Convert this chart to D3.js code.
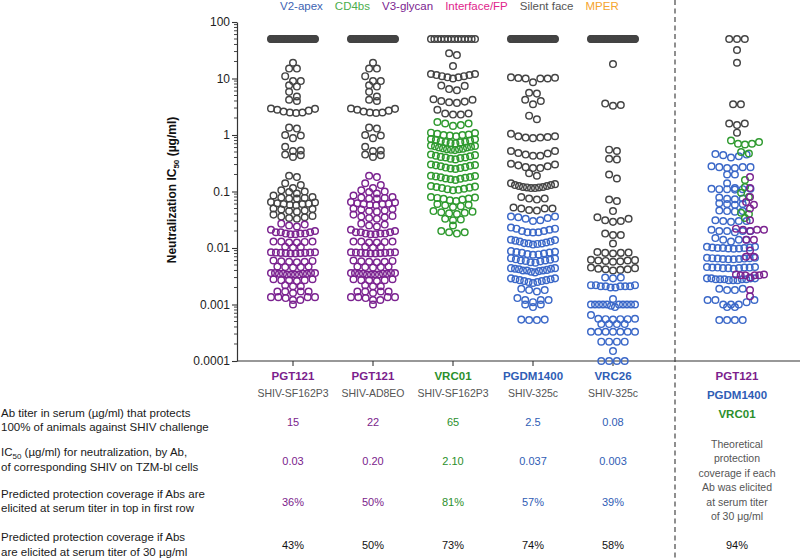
<!DOCTYPE html>
<html><head><meta charset="utf-8">
<script src="https://cdn.jsdelivr.net/npm/d3@7"></script>
<style>body{margin:0;background:#fff;} svg{display:block;font-family:"Liberation Sans",Arial,Helvetica,sans-serif;}</style>
</head><body><svg id="c" width="800" height="560"></svg>
<script>
// ---------------- DATA ----------------
const yTickValues = [0.0001, 0.001, 0.01, 0.1, 1, 10, 100];
const yTickLabels = ["0.0001", "0.001", "0.01", "0.1", "1", "10", "100"];

const legendLabels = ["V2-apex", "CD4bs", "V3-glycan", "Interface/FP", "Silent face", "MPER"];
const legendColors = ["#3d63b3", "#4cae4c", "#7b2390", "#e0248c", "#555555", "#f5a52e"];

const colAntibodies = ["PGT121", "PGT121", "VRC01", "PGDM1400", "VRC26"];
const colViruses = ["SHIV-SF162P3", "SHIV-AD8EO", "SHIV-SF162P3", "SHIV-325c", "SHIV-325c"];
const colClass = ["V3-glycan", "V3-glycan", "CD4bs", "V2-apex", "V2-apex"];
const thresholds = [0.03, 0.20, 2.10, 0.037, 0.003];     // IC50 of challenge SHIV
const resistantCounts = [60, 60, 14, 55, 60];           // viruses with IC50 > 50
const protectTiter = ["15", "22", "65", "2.5", "0.08"];
const shivIC50 = ["0.03", "0.20", "2.10", "0.037", "0.003"];
const coverageTop = ["36%", "50%", "81%", "57%", "39%"];
const coverage30 = ["43%", "50%", "73%", "74%", "58%"];
const combinedCoverage = "94%";

const pgt121IC50 = [
  19, 15, 15, 11, 9, 9, 7.6, 7.2, 5.8, 4.8, 4.2, 4.0,
  2.95, 2.9, 2.8, 2.7, 2.6, 2.5, 2.5, 2.45,
  1.35, 1.3, 1.0, 0.98, 0.88, 0.62, 0.53, 0.52, 0.45, 0.44, 0.41,
  0.19, 0.18, 0.14, 0.13, 0.115, 0.105, 0.1, 0.098, 0.092,
  0.085, 0.08, 0.077, 0.075, 0.075, 0.078,
  0.065, 0.064, 0.062, 0.061, 0.06, 0.06, 0.058, 0.057,
  0.05, 0.049, 0.048, 0.046, 0.045, 0.044,
  0.039, 0.037, 0.036, 0.035, 0.034, 0.033,
  0.027, 0.026, 0.025, 0.024,
  0.021, 0.02, 0.019, 0.019, 0.018, 0.018, 0.0175, 0.0175, 0.018, 0.019,
  0.013, 0.013, 0.0125, 0.0125, 0.013, 0.0128,
  0.0105, 0.0102, 0.0104,
  0.0084, 0.0083, 0.0082, 0.0081, 0.008, 0.008, 0.0081, 0.0082, 0.0083, 0.0084,
  0.006, 0.0058, 0.0057, 0.0056, 0.0057, 0.0059,
  0.0047, 0.0046, 0.0045, 0.0046, 0.0047,
  0.0036, 0.0036, 0.0035, 0.0035, 0.0034, 0.0034, 0.0034, 0.0035, 0.0035, 0.0036, 0.0036, 0.0034,
  0.0028, 0.0027, 0.0027, 0.0026, 0.0027, 0.0028,
  0.0022, 0.0021, 0.0021,
  0.0017, 0.0017, 0.0016, 0.0017, 0.0017,
  0.00135, 0.00135, 0.0013, 0.00135, 0.00135,
  0.0012, 0.0012, 0.001
];

const vrc01IC50 = [
  28, 26, 16.6, 12, 11.5, 11, 10.5, 10, 10.5, 11, 11.5, 12,
  7.5, 7.4, 6.5, 6.2, 4.3, 4.2, 4.0, 3.9, 3.8, 3.7, 2.8, 2.4, 2.4, 2.3, 2.3,
  1.7, 1.6, 1.6, 1.5, 1.45,
  1.1, 1.08, 1.05, 1.02, 1.0, 1.0, 0.98, 0.95,
  0.85, 0.84, 0.82, 0.8, 0.78, 0.76, 0.75, 0.74, 0.72, 0.71,
  0.65, 0.64, 0.63, 0.62, 0.6, 0.6, 0.58, 0.57, 0.56, 0.56, 0.55, 0.54,
  0.45, 0.44, 0.43, 0.42, 0.41, 0.4, 0.4, 0.39, 0.38, 0.37,
  0.3, 0.295, 0.29, 0.285, 0.28, 0.27, 0.265, 0.26, 0.255, 0.25,
  0.19, 0.188, 0.185, 0.18, 0.178, 0.175, 0.17, 0.168, 0.165, 0.16,
  0.125, 0.122, 0.12, 0.117, 0.115, 0.112, 0.11, 0.107, 0.105,
  0.08, 0.078, 0.077, 0.075, 0.074, 0.072, 0.07, 0.068,
  0.06, 0.058, 0.057, 0.055, 0.053,
  0.045, 0.044, 0.043, 0.042, 0.041, 0.04,
  0.033, 0.032, 0.031, 0.025, 0.02, 0.019, 0.019, 0.018
];

const pgdm1400IC50 = [
  10.5, 10.3, 10.2, 10, 10, 10, 8.6, 5.6, 5.4, 4.2, 4.0, 3.5, 2.2, 1.9,
  1.05, 0.95, 0.95, 0.92, 0.9, 0.9, 0.88,
  0.52, 0.52, 0.48, 0.47, 0.45, 0.43, 0.43,
  0.31, 0.3, 0.29, 0.28, 0.27, 0.26, 0.26, 0.21, 0.19,
  0.14, 0.13, 0.125, 0.12, 0.118, 0.115, 0.115, 0.118, 0.12, 0.125, 0.13, 0.135,
  0.08, 0.075, 0.072, 0.075, 0.052, 0.05, 0.05, 0.05, 0.047, 0.046,
  0.036, 0.036, 0.035, 0.034, 0.033, 0.031, 0.03,
  0.023, 0.022, 0.022, 0.021, 0.02, 0.02, 0.019, 0.019, 0.0188,
  0.014, 0.0138, 0.0135, 0.013, 0.013, 0.0125, 0.0122, 0.012, 0.012, 0.0118, 0.0115,
  0.0088, 0.0086, 0.0085, 0.0083, 0.0082, 0.008, 0.0078, 0.0077, 0.0076,
  0.0066, 0.0065, 0.0063, 0.0062, 0.006, 0.006, 0.0059, 0.0058, 0.0056, 0.0055,
  0.0044, 0.0044, 0.0043, 0.0043, 0.0042, 0.0041, 0.004, 0.004, 0.004, 0.0039, 0.0038, 0.0037,
  0.0029, 0.0029, 0.0028, 0.0028, 0.0027, 0.0027, 0.0026, 0.0026, 0.0025, 0.0025, 0.0024,
  0.0019, 0.0018, 0.0018, 0.0017, 0.0013, 0.0012, 0.0012, 0.0012, 0.0011,
  0.001, 0.001, 0.0009, 0.00054, 0.00053, 0.00053, 0.00054
];

const vrc26IC50 = [
  18, 3.6, 3.4, 3.3, 0.55, 0.52, 0.38, 0.37, 0.2, 0.17, 0.072, 0.068, 0.045,
  0.035, 0.033, 0.031, 0.03, 0.029, 0.018, 0.017, 0.017, 0.012,
  0.0085, 0.0083, 0.0082, 0.008, 0.0082,
  0.0062, 0.0061, 0.006, 0.006, 0.0059, 0.0058, 0.0057,
  0.0045, 0.0044, 0.0043, 0.0042, 0.0041, 0.004, 0.0042,
  0.003, 0.003, 0.0029,
  0.0022, 0.0022, 0.0021, 0.0021, 0.0021, 0.002, 0.002, 0.0021, 0.0022, 0.0021,
  0.00125,
  0.001, 0.001, 0.001, 0.001, 0.001, 0.001, 0.001, 0.001, 0.001, 0.001, 0.00095, 0.0009,
  0.00065, 0.00056, 0.00056, 0.00055, 0.00055, 0.00055, 0.00054,
  0.00045, 0.00045, 0.00045, 0.00045,
  0.00033, 0.00033, 0.00033, 0.00033, 0.00033, 0.00033, 0.00033,
  0.00022, 0.00022, 0.00022, 0.00022, 0.00015,
  0.0001, 0.0001, 0.0001, 0.0001
];

// combined column (best of PGT121 / PGDM1400 / VRC01 per virus)
const combinedResistant = 3;
const combinedNone = [32, 19, 3.5, 3.5, 1.6, 1.6, 1.5, 1.1];
const combinedCD4bs = [0.8, 0.75, 0.7, 0.7, 0.68, 0.5, 0.47, 0.16, 0.12, 0.095, 0.08, 0.042, 0.04, 0.034];
const combinedV3 = [0.18, 0.115, 0.08, 0.065, 0.058, 0.05, 0.031, 0.022, 0.021, 0.021, 0.02, 0.021,
  0.014, 0.014, 0.009, 0.007, 0.007, 0.0034, 0.0033, 0.0033, 0.0034, 0.0033, 0.0033, 0.003, 0.0018, 0.0014];
const combinedV2 = [0.46, 0.45, 0.44, 0.42, 0.4, 0.28, 0.27, 0.27, 0.26, 0.26, 0.27, 0.2, 0.2, 0.14,
  0.115, 0.112, 0.11, 0.11, 0.108, 0.11, 0.112, 0.078, 0.075, 0.074, 0.073, 0.062, 0.06, 0.06, 0.058,
  0.046, 0.045, 0.045, 0.044, 0.031, 0.03, 0.03, 0.029, 0.03, 0.021, 0.02, 0.02, 0.02, 0.019, 0.02,
  0.015, 0.014, 0.014, 0.013, 0.014, 0.0105, 0.0102, 0.01, 0.01, 0.0098, 0.0097, 0.0098, 0.01, 0.0102, 0.0105,
  0.0067, 0.0066, 0.0065, 0.0064, 0.0063, 0.0063, 0.0064, 0.0065, 0.0066, 0.0067,
  0.0046, 0.0045, 0.0045, 0.0044, 0.0044, 0.0043, 0.0044, 0.0045, 0.0045, 0.0046,
  0.0029, 0.0029, 0.0028, 0.0028, 0.0027, 0.0027, 0.0027, 0.0028, 0.0028, 0.0029, 0.0029, 0.0028,
  0.0019, 0.0018, 0.0018, 0.0019, 0.0012, 0.0012, 0.0011, 0.0012, 0.001, 0.001, 0.001, 0.0009, 0.0009,
  0.00053, 0.00053, 0.00053, 0.00053];

const rowLabels = [
  ["Ab titer in serum (\u00b5g/ml) that protects", "100% of animals against SHIV challenge"],
  ["IC|50| (\u00b5g/ml) for neutralization, by Ab,", "of corresponding SHIV on TZM-bl cells"],
  ["Predicted protection coverage if Abs are", "elicited at serum titer in top in first row"],
  ["Predicted protection coverage if Abs", "are elicited at serum titer of 30 \u00b5g/ml"]
];
const combinedAbs = ["PGT121", "PGDM1400", "VRC01"];
const combinedAbClass = ["V3-glycan", "V2-apex", "CD4bs"];
const combinedNote = ["Theoretical", "protection", "coverage if each", "Ab was elicited", "at serum titer", "of 30 \u03bcg/ml"];

// ---------------- STYLE ----------------
const dotColor = {"V2-apex": "#3b68c8", "CD4bs": "#2f9a2f", "V3-glycan": "#7b2390", "none": "#444444"};
const textColor = {"V2-apex": "#2f5db5", "CD4bs": "#2b8f2b", "V3-glycan": "#7b1d8c"};
const R = 3.3, DOT_STEP = 7.8, BIN_H = 5;

const svg = d3.select("#c");
const y = d3.scaleLog().domain([0.0001, 100]).range([361, 22]);
const x = d3.scalePoint().domain(d3.range(colAntibodies.length)).range([293, 613]);
const xCombined = 737, xAxis0 = 237, xDivider = 675;
// horizontal centre shift of each class within the combined column
const combinedShift = {"V2-apex": -6, "CD4bs": 8, "V3-glycan": 13, "none": 0};
const combinedHalf = {"V2-apex": 24, "CD4bs": 14, "V3-glycan": 14, "none": 10};

// legend
let lx = 280;
legendLabels.forEach((l, i) => {
  const t = svg.append("text").attr("x", lx).attr("y", 10).attr("font-size", 11.5)
    .attr("fill", legendColors[i]).text(l);
  lx += t.node().getComputedTextLength() + 12;
});

// y axis
const yAxis = d3.axisLeft(y).tickValues(yTickValues).tickFormat((d, i) => yTickLabels[i])
  .tickSize(5).tickSizeOuter(0).tickPadding(2);
const gy = svg.append("g").attr("transform", `translate(${xAxis0},0)`).call(yAxis);
gy.select(".domain").attr("stroke", "#333").attr("stroke-width", 1.2);
gy.selectAll(".tick line").attr("stroke", "#333").attr("stroke-width", 1.1);
gy.selectAll(".tick text").attr("font-size", 12).attr("fill", "#222")
  .attr("font-family", '"Liberation Sans",Arial,sans-serif');
const minor = [];
yTickValues.slice(0, -1).forEach(d => { for (let k = 2; k <= 9; k++) minor.push(d * k); });
gy.selectAll(".minor").data(minor).enter().append("line")
  .attr("x1", -3).attr("x2", 0).attr("y1", d => y(d)).attr("y2", d => y(d))
  .attr("stroke", "#333").attr("stroke-width", 0.9);

// y title
const yt = svg.append("text").attr("transform", "translate(176,190) rotate(-90)")
  .attr("text-anchor", "middle").attr("font-size", 12).attr("font-weight", "bold").attr("fill", "#111");
yt.append("tspan").text("Neutralization IC");
yt.append("tspan").attr("font-size", 8).attr("dy", 3).text("50");
yt.append("tspan").attr("dy", -3).text(" (\u00b5g/ml)");

// x axis
svg.append("line").attr("x1", xAxis0).attr("x2", 800).attr("y1", y(0.0001)).attr("y2", y(0.0001))
  .attr("stroke", "#333").attr("stroke-width", 1.2);
svg.selectAll(".xtick").data(d3.range(colAntibodies.length)).enter().append("line")
  .attr("x1", d => x(d)).attr("x2", d => x(d)).attr("y1", y(0.0001)).attr("y2", y(0.0001) + 5)
  .attr("stroke", "#333").attr("stroke-width", 1.1);

// divider
svg.append("line").attr("x1", xDivider).attr("x2", xDivider).attr("y1", 0).attr("y2", 560)
  .attr("stroke", "#333").attr("stroke-width", 1.1).attr("stroke-dasharray", "5,3.5");

// ---------------- DOT LAYOUT ----------------
function layout(pts, cx, maxHalf) {
  pts.forEach(p => p.py = y(p.v));
  pts.sort((a, b) => a.py - b.py);
  const bins = []; let cur = null;
  pts.forEach(p => {
    if (cur && p.py - cur[0].py <= BIN_H) cur.push(p); else { cur = [p]; bins.push(cur); }
  });
  bins.forEach(b => {
    const n = b.length;
    const step = n > 1 ? Math.min(DOT_STEP, 2 * maxHalf / (n - 1)) : 0;
    const offs = d3.range(n).map(i => (i - (n - 1) / 2) * step)
      .sort((a, c) => Math.abs(c) - Math.abs(a));
    b.forEach((p, i) => p.px = cx + offs[i]);
  });
  return pts;
}

const colData = [pgt121IC50, pgt121IC50, vrc01IC50, pgdm1400IC50, vrc26IC50];
let allPts = [];
colData.forEach((vals, ci) => {
  const pts = vals.map(v => ({v, cls: v <= thresholds[ci] ? colClass[ci] : "none"}));
  for (let k = 0; k < resistantCounts[ci]; k++) pts.push({v: 50, cls: "none"});
  allPts = allPts.concat(layout(pts, x(ci), 22));
});
const combGroups = [
  ["none", combinedNone.concat(d3.range(combinedResistant).map(() => 50))],
  ["V2-apex", combinedV2], ["CD4bs", combinedCD4bs], ["V3-glycan", combinedV3]
];
combGroups.forEach(([cls, vals]) => {
  const pts = vals.map(v => ({v, cls}));
  allPts = allPts.concat(layout(pts, xCombined + combinedShift[cls], combinedHalf[cls]));
});

svg.append("g").selectAll("circle").data(allPts).enter().append("circle")
  .attr("cx", d => d.px).attr("cy", d => d.py).attr("r", R)
  .attr("fill", "none").attr("stroke", d => dotColor[d.cls]).attr("stroke-width", 1.45);

// ---------------- TABLE ----------------
const tbl = svg.append("g");
colAntibodies.forEach((ab, i) => {
  const c = textColor[colClass[i]];
  tbl.append("text").attr("x", x(i)).attr("y", 380).attr("text-anchor", "middle")
    .attr("font-size", 11.5).attr("font-weight", "bold").attr("fill", c).text(ab);
  tbl.append("text").attr("x", x(i)).attr("y", 397).attr("text-anchor", "middle")
    .attr("font-size", 10.5).attr("fill", "#555").text(colViruses[i]);
  [[protectTiter, 426], [shivIC50, 465], [coverageTop, 506]].forEach(([arr, yy]) => {
    tbl.append("text").attr("x", x(i)).attr("y", yy).attr("text-anchor", "middle")
      .attr("font-size", 11).attr("fill", c).text(arr[i]);
  });
  tbl.append("text").attr("x", x(i)).attr("y", 549).attr("text-anchor", "middle")
    .attr("font-size", 11).attr("fill", "#111").text(coverage30[i]);
});
const rowY = [[417, 431], [456, 471], [498, 512], [541, 556]];
rowLabels.forEach((lines, r) => {
  lines.forEach((line, j) => {
    const t = tbl.append("text").attr("x", 1).attr("y", rowY[r][j]).attr("font-size", 11.5).attr("fill", "#1a1a1a");
    const parts = line.split("|");
    if (parts.length === 3) {
      t.append("tspan").text(parts[0]);
      t.append("tspan").attr("font-size", 8).attr("dy", 3).text(parts[1]);
      t.append("tspan").attr("dy", -3).text(parts[2]);
    } else t.text(line);
  });
});
combinedAbs.forEach((ab, i) => {
  tbl.append("text").attr("x", xCombined).attr("y", 380 + i * 19).attr("text-anchor", "middle")
    .attr("font-size", 11.5).attr("font-weight", "bold").attr("fill", textColor[combinedAbClass[i]]).text(ab);
});
combinedNote.forEach((l, i) => {
  tbl.append("text").attr("x", xCombined).attr("y", 448 + i * 14.4).attr("text-anchor", "middle")
    .attr("font-size", 10.5).attr("fill", "#555").text(l);
});
tbl.append("text").attr("x", xCombined).attr("y", 549).attr("text-anchor", "middle")
  .attr("font-size", 11).attr("fill", "#111").text(combinedCoverage);
</script></body></html>
